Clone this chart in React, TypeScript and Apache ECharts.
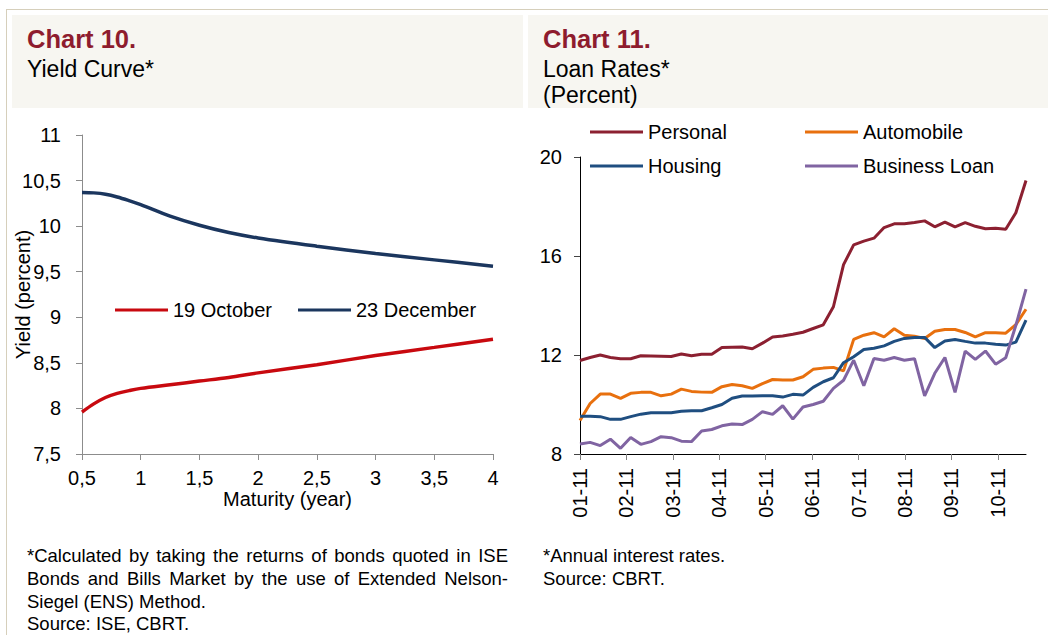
import React, { useEffect, useRef } from "react";
import * as echarts from "echarts";

// ---------- Chart 10: Yield curve ----------
const maturities = [0.5, 0.6, 0.7, 0.8, 0.9, 1.0, 1.25, 1.5, 1.75, 2.0, 2.5, 3.0, 3.5, 4.0];
const yieldOct19 = [7.96, 8.05, 8.12, 8.165, 8.195, 8.22, 8.26, 8.3, 8.34, 8.39, 8.48, 8.58, 8.67, 8.76];
const yieldDec23 = [10.37, 10.365, 10.35, 10.32, 10.28, 10.235, 10.11, 10.01, 9.93, 9.87, 9.78, 9.7, 9.63, 9.56];

// ---------- Chart 11: Loan rates (weekly, 2011) ----------
const monthLabels = ["01-11", "02-11", "03-11", "04-11", "05-11", "06-11", "07-11", "08-11", "09-11", "10-11"];
const personal = [
  11.78, 11.9, 12.0, 11.9, 11.85, 11.85, 11.97, 11.96, 11.95, 11.94,
  12.04, 11.97, 12.03, 12.03, 12.3, 12.31, 12.32, 12.25, 12.48, 12.73,
  12.77, 12.84, 12.92, 13.07, 13.22, 13.95, 15.65, 16.45, 16.6, 16.72,
  17.15, 17.3, 17.3, 17.35, 17.42, 17.18, 17.37, 17.18, 17.35, 17.2,
  17.1, 17.12, 17.08, 17.75, 19.05,
];
const automobile = [
  9.35, 10.04, 10.42, 10.42, 10.25, 10.45, 10.49, 10.49, 10.35, 10.42,
  10.62, 10.53, 10.5, 10.49, 10.72, 10.81, 10.76, 10.65, 10.84, 11.01,
  10.99, 10.99, 11.12, 11.42, 11.47, 11.5, 11.36, 12.63, 12.8, 12.9,
  12.73, 13.06, 12.8, 12.76, 12.67, 12.96, 13.03, 13.03, 12.91, 12.73,
  12.9, 12.9, 12.88, 13.23, 13.85,
];
const housing = [
  9.53, 9.53, 9.51, 9.4, 9.4, 9.51, 9.61, 9.67, 9.67, 9.67,
  9.73, 9.75, 9.75, 9.87, 10.0, 10.25, 10.34, 10.34, 10.35, 10.35,
  10.3, 10.41, 10.38, 10.69, 10.92, 11.08, 11.69, 11.93, 12.22, 12.27,
  12.37, 12.55, 12.67, 12.71, 12.71, 12.3, 12.57, 12.63, 12.55, 12.48,
  12.48, 12.43, 12.4, 12.52, 13.41,
];
const businessLoan = [
  8.4, 8.47, 8.34, 8.6, 8.23, 8.67, 8.39, 8.5, 8.7, 8.66,
  8.52, 8.5, 8.93, 8.99, 9.14, 9.21, 9.19, 9.4, 9.71, 9.6,
  9.95, 9.41, 9.9, 10.0, 10.13, 10.65, 10.98, 11.79, 10.76, 11.86,
  11.79, 11.9, 11.79, 11.85, 10.35, 11.26, 11.9, 10.49, 12.16, 11.82,
  12.16, 11.63, 11.89, 13.2, 14.66,
];

const footLeft = [
  "*Calculated by taking the returns of bonds quoted in ISE",
  "Bonds and Bills Market by the use of Extended Nelson-",
  "Siegel (ENS) Method.",
  "Source: ISE, CBRT.",
];
const footRight = ["*Annual interest rates.", "Source: CBRT."];

const FONT = "'Liberation Sans', Arial, Helvetica, sans-serif";
const WEEKS_PER_MONTH = 4.58;

function measure(text: string, size: number): number {
  const c = document.createElement("canvas").getContext("2d");
  if (!c) return text.length * size * 0.5;
  c.font = `${size}px 'Liberation Sans', Arial, sans-serif`;
  return c.measureText(text).width;
}

function footText(line: string, x: number, y: number, size: number, justifyWidth?: number): any[] {
  const base = { fill: "#000", fontSize: size, fontFamily: FONT, verticalAlign: "middle" };
  if (!justifyWidth) {
    return [{ type: "text", x, y, style: { ...base, text: line, align: "left" } }];
  }
  const words = line.split(" ");
  const widths = words.map((w) => measure(w, size));
  const total = widths.reduce((a, b) => a + b, 0);
  const gap = (justifyWidth - total) / (words.length - 1);
  let cx = x;
  return words.map((w, i) => {
    const el = { type: "text", x: cx, y, style: { ...base, text: w, align: "left" } };
    cx += widths[i] + gap;
    return el;
  });
}

export default function App() {
  const ref = useRef<HTMLDivElement>(null);

  useEffect(() => {
    if (!ref.current) return;
    const chart = echarts.init(ref.current, undefined, { renderer: "svg" });

    const leftLine = (d: number[]) => maturities.map((m, i) => [m, d[i]]);
    const rightLine = (d: number[]) => d.map((v, i) => [i, v]);
    const fs = 18.5;

    const graphic: any[] = [
      { type: "line", shape: { x1: 6, y1: 9.5, x2: 1048, y2: 9.5 }, style: { stroke: "#d6cfbb", lineWidth: 1 }, silent: true },
      { type: "line", shape: { x1: 6.5, y1: 9, x2: 6.5, y2: 635 }, style: { stroke: "#d6cfbb", lineWidth: 1 }, silent: true },
      { type: "rect", shape: { x: 12, y: 15, width: 511, height: 93 }, style: { fill: "#f7f6f1" }, silent: true },
      { type: "rect", shape: { x: 528, y: 15, width: 520, height: 93 }, style: { fill: "#f7f6f1" }, silent: true },
      { type: "text", x: 27, y: 38.5, style: { text: "Chart 10.", fill: "#8e1c2e", fontSize: 25.5, fontWeight: "bold", fontFamily: FONT, verticalAlign: "middle" } },
      { type: "text", x: 27, y: 69, style: { text: "Yield Curve*", fill: "#000", fontSize: 23, fontFamily: FONT, verticalAlign: "middle" } },
      { type: "text", x: 543, y: 38.5, style: { text: "Chart 11.", fill: "#8e1c2e", fontSize: 25.5, fontWeight: "bold", fontFamily: FONT, verticalAlign: "middle" } },
      { type: "text", x: 543, y: 68.5, style: { text: "Loan Rates*", fill: "#000", fontSize: 23, fontFamily: FONT, verticalAlign: "middle" } },
      { type: "text", x: 543, y: 95, style: { text: "(Percent)", fill: "#000", fontSize: 23, fontFamily: FONT, verticalAlign: "middle" } },
    ];
    const footY = [555, 578, 601, 623];
    footLeft.forEach((l, i) => graphic.push(...footText(l, 27, footY[i], fs, i < 2 ? 481 : undefined)));
    footRight.forEach((l, i) => graphic.push(...footText(l, 543, footY[i], fs)));

    const legendBase = {
      icon: "rect",
      itemWidth: 53,
      itemHeight: 3,
      itemGap: 5,
      padding: 0,
      selectedMode: false,
      textStyle: { color: "#000", fontSize: 20, fontFamily: FONT, lineHeight: 20 },
    };

    chart.setOption({
      animation: false,
      backgroundColor: "#fff",
      textStyle: { fontFamily: FONT },
      graphic,
      legend: [
        { ...legendBase, data: ["19 October"], left: 115, top: 300 },
        { ...legendBase, data: ["23 December"], left: 298, top: 300 },
        { ...legendBase, data: ["Personal"], left: 590, top: 122 },
        { ...legendBase, data: ["Automobile"], left: 805, top: 122 },
        { ...legendBase, data: ["Housing"], left: 590, top: 156 },
        { ...legendBase, data: ["Business Loan"], left: 805, top: 156 },
      ],
      grid: [
        { left: 82, top: 135, width: 411, height: 319 },
        { left: 580, top: 157, width: 446, height: 297 },
      ],
      xAxis: [
        {
          type: "value",
          gridIndex: 0,
          min: 0.5,
          max: 4,
          interval: 0.5,
          name: "Maturity (year)",
          nameLocation: "middle",
          nameGap: 35,
          nameMoveOverlap: false,
          nameTextStyle: { color: "#000", fontSize: 20, fontFamily: FONT },
          axisLine: { lineStyle: { color: "#8c8c8c", width: 1 } },
          axisTick: { show: true, length: 6, lineStyle: { color: "#8c8c8c" } },
          axisLabel: { color: "#000", fontSize: 20, margin: 14, formatter: (v: number) => String(v).replace(".", ",") },
          splitLine: { show: false },
        },
        {
          type: "value",
          gridIndex: 1,
          min: 0,
          max: personal.length - 1,
          interval: WEEKS_PER_MONTH,
          axisLine: { lineStyle: { color: "#000", width: 1 } },
          axisTick: { show: true, length: 6, lineStyle: { color: "#808080" }, customValues: monthLabels.map((_, k) => k * WEEKS_PER_MONTH) },
          axisLabel: {
            color: "#000",
            fontSize: 20,
            rotate: 90,
            margin: 14,
            customValues: monthLabels.map((_, k) => k * WEEKS_PER_MONTH),
            formatter: (v: number) => {
              const m = v / WEEKS_PER_MONTH;
              const r = Math.round(m);
              if (Math.abs(m - r) > 0.02) return "";
              return monthLabels[r] ?? "";
            },
          },
          splitLine: { show: false },
        },
      ],
      yAxis: [
        {
          type: "value",
          gridIndex: 0,
          min: 7.5,
          max: 11,
          interval: 0.5,
          name: "Yield (percent)",
          nameLocation: "middle",
          nameGap: 49,
          nameMoveOverlap: false,
          nameTextStyle: { color: "#000", fontSize: 20, fontFamily: FONT },
          axisLine: { show: true, lineStyle: { color: "#8c8c8c", width: 1 } },
          axisTick: { show: true, length: 6, lineStyle: { color: "#8c8c8c" } },
          axisLabel: { color: "#000", fontSize: 20, margin: 21, formatter: (v: number) => String(v).replace(".", ",") },
          splitLine: { show: false },
        },
        {
          type: "value",
          gridIndex: 1,
          min: 8,
          max: 20,
          interval: 4,
          axisLine: { show: true, lineStyle: { color: "#000", width: 1 } },
          axisTick: { show: true, length: 6, lineStyle: { color: "#444" } },
          axisLabel: { color: "#000", fontSize: 20, margin: 18 },
          splitLine: { show: false },
        },
      ],
      series: [
        { name: "19 October", type: "line", xAxisIndex: 0, yAxisIndex: 0, smooth: 0.35, symbol: "none", data: leftLine(yieldOct19), lineStyle: { width: 3.5, color: "#c8090f" }, itemStyle: { color: "#c8090f" } },
        { name: "23 December", type: "line", xAxisIndex: 0, yAxisIndex: 0, smooth: 0.35, symbol: "none", data: leftLine(yieldDec23), lineStyle: { width: 3.5, color: "#1b365e" }, itemStyle: { color: "#1b365e" } },
        { name: "Personal", type: "line", xAxisIndex: 1, yAxisIndex: 1, symbol: "none", data: rightLine(personal), lineStyle: { width: 3, color: "#8c2031" }, itemStyle: { color: "#8c2031" } },
        { name: "Automobile", type: "line", xAxisIndex: 1, yAxisIndex: 1, symbol: "none", data: rightLine(automobile), lineStyle: { width: 3, color: "#e8700e" }, itemStyle: { color: "#e8700e" } },
        { name: "Housing", type: "line", xAxisIndex: 1, yAxisIndex: 1, symbol: "none", data: rightLine(housing), lineStyle: { width: 3, color: "#1f4e80" }, itemStyle: { color: "#1f4e80" } },
        { name: "Business Loan", type: "line", xAxisIndex: 1, yAxisIndex: 1, symbol: "none", data: rightLine(businessLoan), lineStyle: { width: 3, color: "#8064a2" }, itemStyle: { color: "#8064a2" } },
      ],
    });

    return () => chart.dispose();
  }, []);

  return (
    <div
      ref={ref}
      style={{ position: "absolute", left: 0, top: 0, width: 1048, height: 635, background: "#fff" }}
    />
  );
}
